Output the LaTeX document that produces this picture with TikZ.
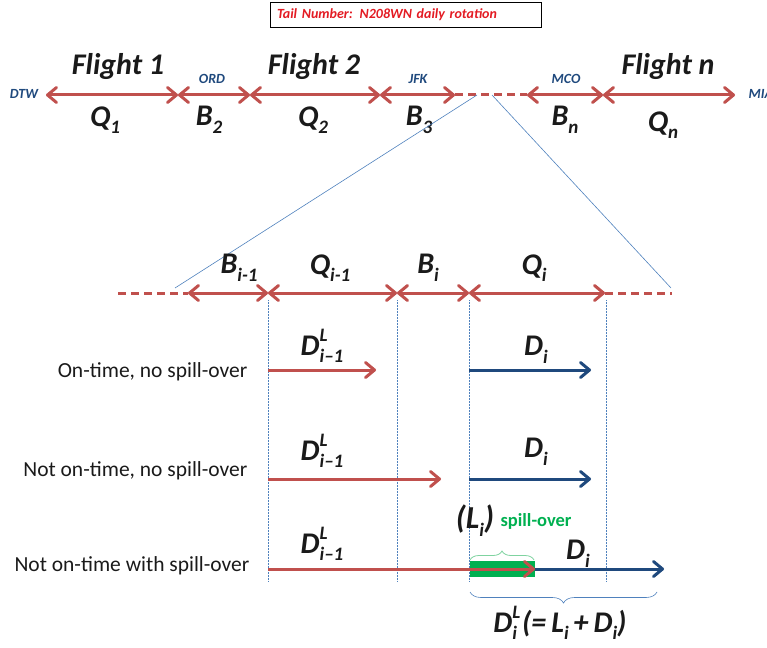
\documentclass[tikz,border=0pt]{standalone}
\usepackage{fontspec}
\setmainfont{Carlito}
\usetikzlibrary{arrows.meta,decorations.pathreplacing}
\definecolor{ared}{HTML}{C0504D}
\definecolor{anavy}{HTML}{1F497D}
\definecolor{lblue}{HTML}{4F81BD}
\definecolor{sgreen}{HTML}{00B050}
\definecolor{bgreen}{HTML}{7FD3A0}
\definecolor{tred}{HTML}{E31B23}
\definecolor{ink}{HTML}{1A1A1A}
\newcommand\sbs[1]{\raisebox{-0.25em}{\fontsize{19}{19}\selectfont #1}}
\newcommand\sps[1]{\raisebox{0.45em}{\fontsize{19}{19}\selectfont #1}}
\newcommand\DLsub[1]{D\rlap{\sps{L}}\sbs{#1}}
\tikzset{
  tl/.style={draw=ared,line width=3pt},
  dl/.style={line width=3pt,->},
  gap/.style={draw=ared,line width=3pt,dash pattern=on 8pt off 5pt},
  zoomline/.style={draw=lblue,line width=0.6pt},
  guide/.style={draw=lblue,line width=0.5pt,densely dotted},
  flt/.style={font=\fontsize{30}{32}\selectfont\bfseries\itshape,text=ink},
  sym/.style={font=\fontsize{30}{32}\selectfont\bfseries\itshape,text=ink,inner sep=1pt},
  apt/.style={font=\fontsize{14}{15}\selectfont\bfseries\itshape,text=anavy},
  rowtext/.style={font=\fontsize{21.5}{23}\selectfont,text=ink,anchor=east},
}
\begin{document}
\begin{tikzpicture}[x=1pt,y=-1pt,>={Straight Barb[length=9pt,width=15pt,round]}]
\useasboundingbox (0,0) rectangle (767,647);
% title box
\node[draw,line width=0.6pt,text width=257pt,inner xsep=7pt,minimum height=25pt,align=left,
  font=\fontsize{14}{15}\selectfont\bfseries\itshape,text=tred] (title) at (405.5,14.5)
  {Tail Number: N208WN daily rotation};

% daily rotation
\foreach \n/\x in {a0/46,a1/178,a2/250,a3/380,a4/455,a5/527,a6/603,a7/735}
  \coordinate (\n) at (\x,95);
\draw[tl,<->] (a0) -- (a1);
\draw[tl,<->] (a1) -- (a2);
\draw[tl,<->] (a2) -- (a3);
\draw[tl,<->] (a3) -- (a4);
\draw[gap] (a4) -- (a5);
\draw[tl,<->] (a5) -- (a6);
\draw[tl,<->] (a6) -- (a7);
\node[apt] (dtw) at (24,94) {DTW};
\node[apt,anchor=west] (mia) at (745,94) {MIA};
\node[apt] (ord) at (212,79) {ORD};
\node[apt] (jfk) at (418,79) {JFK};
\node[apt] (mco) at (566,79) {MCO};
\node[flt] (f1) at (118,67) {Flight 1};
\node[flt] (f2) at (314,67) {Flight 2};
\node[flt] (fn) at (668,67) {Flight n};
\node[sym] (q1) at (105,120) {Q\sbs{1}};
\node[sym] (b2) at (209,120) {B\sbs{2}};
\node[sym] (q2) at (313,120) {Q\sbs{2}};
\node[sym] (b3) at (419,120) {B\sbs{3}};
\node[sym] (bn) at (565,120) {B\sbs{n}};
\node[sym] (qn) at (663,125) {Q\sbs{n}};

% zoom into flight i
\coordinate (zl) at (477,95);
\coordinate (zr) at (492,95);
\coordinate (zl') at (175,288);
\coordinate (zr') at (671,288);
\draw[zoomline] (zl) -- (zl');
\draw[zoomline] (zr) -- (zr');

\foreach \n/\x in {b0/118,b1/188,b2/268,b3/397,b4/469,b5/605,b6/672}
  \coordinate (\n) at (\x,293);
\draw[gap] (b0) -- (b1);
\draw[tl,<->] (b1) -- (b2);
\draw[tl,<->] (b2) -- (b3);
\draw[tl,<->] (b3) -- (b4);
\draw[tl,<->] (b4) -- (b5);
\draw[gap] (b5) -- (b6);
\node[sym] (bim) at (239,268) {B\sbs{i-1}};
\node[sym] (qim) at (330,268) {Q\sbs{i-1}};
\node[sym] (bi) at (428,268) {B\sbs{i}};
\node[sym] (qi) at (534,268) {Q\sbs{i}};

% guides
\foreach \n/\x in {g1/268,g2/397,g3/469,g4/606}{
  \coordinate (\n) at (\x,300);
  \coordinate (\n') at (\x,582);
  \draw[guide] (\n) -- (\n');
}

% case 1
\coordinate (r1a) at (268,370);
\coordinate (r1b) at (376,370);
\coordinate (r1c) at (469,370);
\coordinate (r1d) at (591,370);
\draw[dl,draw=ared] (r1a) -- (r1b);
\draw[dl,draw=anavy] (r1c) -- (r1d);
\node[rowtext] (t1) at (251,372) {On-time, no spill-over};
\node[sym] (d1a) at (322,346) {\DLsub{i\textendash1}};
\node[sym] (d1b) at (536,350) {D\sbs{i}};

% case 2
\coordinate (r2a) at (268,479);
\coordinate (r2b) at (441,479);
\coordinate (r2c) at (469,479);
\coordinate (r2d) at (591,479);
\draw[dl,draw=ared] (r2a) -- (r2b);
\draw[dl,draw=anavy] (r2c) -- (r2d);
\node[rowtext] (t2) at (251,471) {Not on-time, no spill-over};
\node[sym] (d2a) at (322,451) {\DLsub{i\textendash1}};
\node[sym] (d2b) at (536,452) {D\sbs{i}};

% case 3
\coordinate (r3a) at (268,569);
\coordinate (r3b) at (535,569);
\coordinate (r3c) at (664,569);
\fill[sgreen] (470,561) rectangle (535,577);
\draw[dl,draw=anavy] (r3b) -- (r3c);
\draw[dl,draw=ared] (r3a) -- (r3b);
\node[rowtext] (t3) at (253,566) {Not on-time with spill-over};
\node[sym] (d3a) at (322,544) {\DLsub{i\textendash1}};
\node[sym] (d3b) at (578,554) {D\sbs{i}};
\coordinate (s1) at (470,560);
\coordinate (s2) at (534,560);
\draw[bgreen,line width=0.8pt,decorate,decoration={brace,amplitude=9pt}] (s1) -- (s2);
\node[sym,font=\fontsize{32}{34}\selectfont\bfseries\itshape] (li) at (475,521) {(L\sbs{i})};
\node[font=\fontsize{18.5}{20}\selectfont\bfseries,text=sgreen,anchor=west] (sp) at (497,521) {spill-over};
\coordinate (u1) at (657,592);
\coordinate (u2) at (470,592);
\draw[lblue,line width=0.6pt,decorate,decoration={brace,amplitude=11pt}] (u1) -- (u2);
\node[sym] (dl) at (560,623) {\DLsub{i}\,(=\,L\sbs{i}\,+\,D\sbs{i})};
\end{tikzpicture}
\end{document}
